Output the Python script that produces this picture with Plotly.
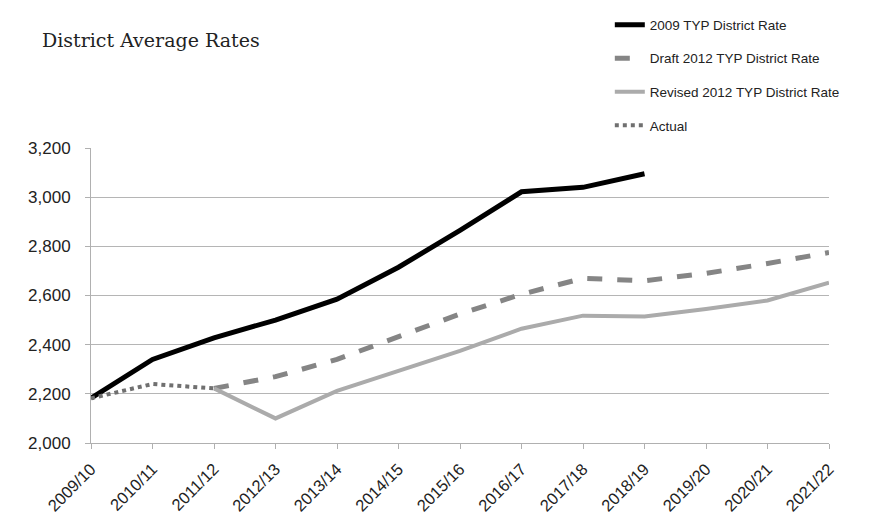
import plotly.graph_objects as go

years = ["2009/10", "2010/11", "2011/12", "2012/13", "2013/14", "2014/15", "2015/16",
         "2016/17", "2017/18", "2018/19", "2019/20", "2020/21", "2021/22"]

typ2009 = [2182, 2340, 2428, 2500, 2585, 2715, 2865, 3022, 3040, 3095, None, None, None]
draft2012 = [None, None, 2222, 2270, 2340, 2430, 2525, 2605, 2670, 2660, 2690, 2730, 2775]
revised2012 = [None, None, 2222, 2100, 2212, 2295, 2375, 2465, 2518, 2515, 2545, 2580, 2652]
actual = [2182, 2240, 2222, None, None, None, None, None, None, None, None, None, None]

yticks = [2000, 2200, 2400, 2600, 2800, 3000, 3200]

fig = go.Figure()
fig.add_trace(go.Scatter(x=years, y=typ2009, mode="lines", name="2009 TYP District Rate",
                         line=dict(color="#000000", width=5), legendgroup="a"))
fig.add_trace(go.Scatter(x=years, y=draft2012, mode="lines", name="Draft 2012 TYP District Rate",
                         line=dict(color="#858585", width=5, dash="dash"), legendgroup="b"))
fig.add_trace(go.Scatter(x=years, y=revised2012, mode="lines", name="Revised 2012 TYP District Rate",
                         line=dict(color="#ababab", width=4), legendgroup="c"))
fig.add_trace(go.Scatter(x=years, y=actual, mode="lines", name="Actual",
                         line=dict(color="#707070", width=4, dash="dot"), legendgroup="d"))

fig.update_layout(
    width=872, height=529,
    margin=dict(l=91, r=43, t=148, b=86, autoexpand=False),
    paper_bgcolor="white", plot_bgcolor="white",
    font=dict(family="Liberation Sans, Arial, sans-serif", color="#222222"),
    title=dict(text="District Average Rates", x=42 / 872, xanchor="left", y=1 - 40 / 529, yanchor="middle",
               font=dict(family="DejaVu Serif, serif", size=19, color="#222222")),
    legend=dict(x=0.703, xanchor="left", y=1.470, yanchor="top", bgcolor="rgba(0,0,0,0)",
                font=dict(size=13.5, color="#222222"), tracegroupgap=13, traceorder="grouped"),
    xaxis=dict(type="category", tickangle=-45, showgrid=False, showline=True, linecolor="#b0b0b0",
               linewidth=1, ticks="outside", ticklen=5, tickcolor="#b0b0b0", automargin=False,
               tickfont=dict(size=16.5), ticklabelstandoff=4, range=[0, 12]),
    yaxis=dict(range=[2000, 3200], tickvals=yticks, tickformat=",", showgrid=True, gridcolor="#b5b5b5",
               gridwidth=1, showline=True, linecolor="#b0b0b0", ticks="outside", ticklen=5, automargin=False,
               tickcolor="#b0b0b0", tickfont=dict(size=17), ticklabelstandoff=11, zeroline=False),
)

fig.write_html("out.html")
